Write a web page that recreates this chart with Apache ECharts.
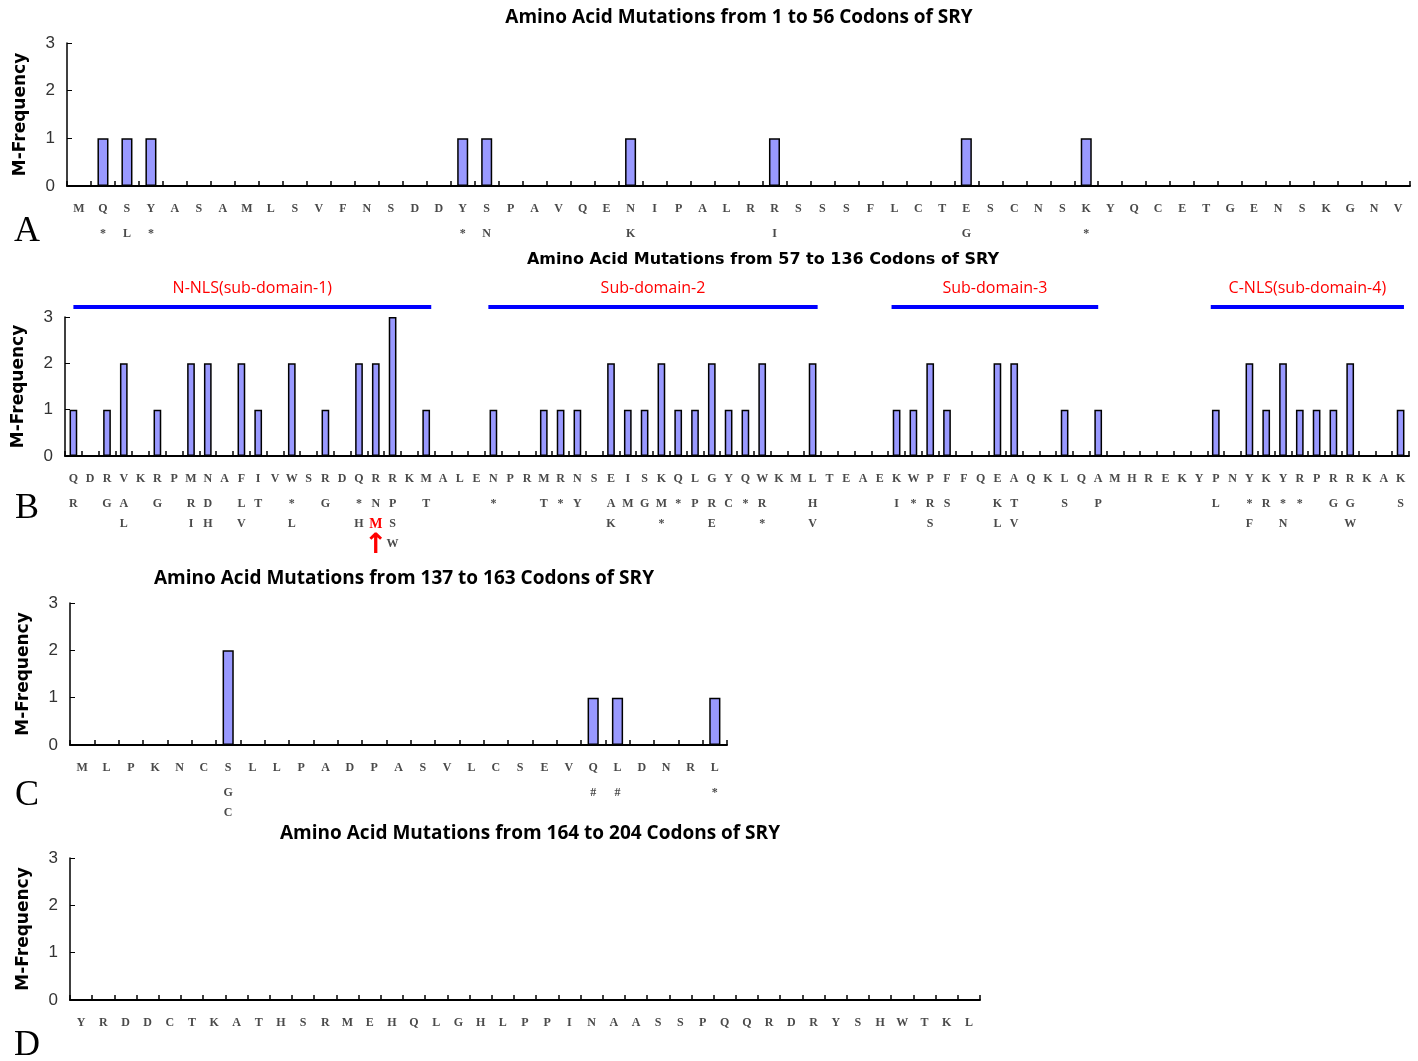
<!DOCTYPE html>
<html>
<head>
<meta charset="utf-8">
<title>SRY amino acid mutations</title>
<script src="https://cdn.jsdelivr.net/npm/echarts@6/dist/echarts.min.js"></script>
<style>
  html, body { margin: 0; padding: 0; background: #fff; }
  #chart { width: 1418px; height: 1061px; }
</style>
</head>
<body>
<div id="chart"></div>
<script>
// SRY protein residues, split into the four codon ranges
const residuesA = 'MQSYASAMLSVFNSDDYSPAVQENIPALRRSSSFLCTESCNSKYQCETGENSKGNV'.split('');
const residuesB = 'QDRVKRPMNAFIVWSRDQRRKMALENPRMRNSEISKQLGYQWKMLTEAEKWPFFQEAQKLQAMHREKYPNYKYRPRRKAK'.split('');
const residuesC = 'MLPKNCSLLPADPASVLCSEVQLDNRL'.split('');
const residuesD = 'YRDDCTKATHSRMEHQLGHLPPINAASSPQQRDRYSHWTKL'.split('');

// Mutation frequency per codon
const freqA = [0,1,1,1,0,0,0,0,0,0, 0,0,0,0,0,0,1,1,0,0, 0,0,0,1,0,0,0,0,0,1,
               0,0,0,0,0,0,0,1,0,0, 0,0,1,0,0,0,0,0,0,0, 0,0,0,0,0,0];
const freqB = [1,0,1,2,0,1,0,2,2,0, 2,1,0,2,0,1,0,2,2,3, 0,1,0,0,0,1,0,0,1,1,
               1,0,2,1,1,2,1,1,2,1, 1,2,0,0,2,0,0,0,0,1, 1,2,1,0,0,2,2,0,0,1,
               0,1,0,0,0,0,0,0,1,0, 2,1,2,1,1,1,2,0,0,1];
const freqC = [0,0,0,0,0,0,2,0,0,0, 0,0,0,0,0,0,0,0,0,0, 0,1,1,0,0,0,1];
const freqD = [0,0,0,0,0,0,0,0,0,0, 0,0,0,0,0,0,0,0,0,0, 0,0,0,0,0,0,0,0,0,0,
               0,0,0,0,0,0,0,0,0,0, 0];

// Substituted residues per codon ('/' separates several; '*' stop, '#' frameshift)
const mutA = ['','*','L','*','','','','','','', '','','','','','','*','N','','',
              '','','','K','','','','','','I', '','','','','','','','G','','',
              '','','*','','','','','','','', '','','','','',''];
const mutB = ['R','','G','A/L','','G','','R/I','D/H','', 'L/V','T','','*/L','','G','','*/H','N/M','P/S/W',
              '','T','','','','*','','','T','*', 'Y','','A/K','M','G','M/*','*','P','R/E','C',
              '*','R/*','','','H/V','','','','','I', '*','R/S','S','','','K/L','T/V','','','S',
              '','P','','','','','','','L','', '*/F','R','*/N','*','','G','G/W','','','S'];
const mutC = ['','','','','','','G/C','','','', '','','','','','','','','','',
              '','#','#','','','','*'];
const mutD = [];

// Substitution marked in red with an arrow (codon 75, R -> M)
const highlightB = { index: 18, residue: 'M' };

// HMG-box sub-domains, in codon numbers
const domainNames = ['N-NLS(sub-domain-1)', 'Sub-domain-2', 'Sub-domain-3', 'C-NLS(sub-domain-4)'];
const domainStart = [57.0, 81.7, 105.7, 124.7];
const domainEnd   = [78.3, 101.3, 118.0, 136.2];

const titles = [
  'Amino Acid Mutations from 1 to 56 Codons of SRY',
  'Amino Acid Mutations from 57 to 136 Codons of SRY',
  'Amino Acid Mutations from 137 to 163 Codons of SRY',
  'Amino Acid Mutations from 164 to 204 Codons of SRY'
];
const panelLetters = ['A', 'B', 'C', 'D'];

const panels = [
  { residues: residuesA, freq: freqA, muts: mutA, hl: null,
    grid: { left: 67, top: 43, width: 1343, height: 143 },
    title: { x: 739, y: 18, font: 'bold 19px "Open Sans"' }, letterY: 232 },
  { residues: residuesB, freq: freqB, muts: mutB, hl: highlightB,
    grid: { left: 65, top: 317, width: 1344, height: 139 },
    title: { x: 763, y: 260, font: 'bold 16px "DejaVu Sans"' }, letterY: 509 },
  { residues: residuesC, freq: freqC, muts: mutC, hl: null,
    grid: { left: 70, top: 603, width: 657, height: 142 },
    title: { x: 404, y: 579, font: 'bold 19px "Open Sans"' }, letterY: 796 },
  { residues: residuesD, freq: freqD, muts: mutD, hl: null,
    grid: { left: 70, top: 858, width: 910, height: 142 },
    title: { x: 530, y: 834, font: 'bold 19px "Open Sans"' }, letterY: 1046 }
];

const letterFont = { fontFamily: 'Liberation Serif', fontSize: 12, fontWeight: 'bold', color: '#4a4a4a' };
const labelRich = {
  res:   Object.assign({ lineHeight: 30 }, letterFont),
  mut:   Object.assign({ lineHeight: 20 }, letterFont),
  hl:    { fontFamily: 'Liberation Serif', fontSize: 14, lineHeight: 20, color: '#ff0000', fontWeight: 'bold' },
  arrow: { fontFamily: 'DejaVu Sans', fontSize: 28, lineHeight: 24, color: '#ff0000', fontWeight: 'bold' }
};

function makeFormatter(muts, hl) {
  return function (value, index) {
    const lines = ['{res|' + value + '}'];
    const alts = muts[index] ? muts[index].split('/') : [];
    alts.forEach(function (a) {
      const isHl = hl && hl.index === index && hl.residue === a;
      lines.push(isHl ? '{hl|' + a + '}' : '{mut|' + a + '}');
    });
    if (hl && hl.index === index) lines.push('{arrow|\u2191}');
    return lines.join('\n');
  };
}

const grids = [], xAxes = [], yAxes = [], series = [], graphics = [];

panels.forEach(function (p, i) {
  grids.push(Object.assign({ containLabel: false }, p.grid));
  xAxes.push({
    type: 'category', gridIndex: i, data: p.residues,
    axisLine: { lineStyle: { color: '#000', width: 2 } },
    axisTick: { show: true, inside: true, length: 5, interval: 0, lineStyle: { color: '#000', width: 1.5 } },
    axisLabel: { interval: 0, margin: 8, formatter: makeFormatter(p.muts, p.hl), rich: labelRich },
    splitLine: { show: false }
  });
  yAxes.push({
    type: 'value', gridIndex: i, min: 0, max: 3, interval: 1,
    name: 'M-Frequency', nameLocation: 'middle', nameGap: 38,
    nameTextStyle: { fontFamily: 'DejaVu Sans', fontWeight: 'bold', fontSize: 17, color: '#000' },
    axisLine: { show: true, lineStyle: { color: '#000', width: 1.5 } },
    axisTick: { show: true, inside: true, length: 5, lineStyle: { color: '#000' } },
    axisLabel: { fontFamily: 'Liberation Sans', fontSize: 17, color: '#333', margin: 12 },
    splitLine: { show: false }
  });
  series.push({
    type: 'bar', xAxisIndex: i, yAxisIndex: i, data: p.freq,
    barWidth: '46%',
    itemStyle: { color: '#9999ff', borderColor: '#000', borderWidth: 1.5 },
    silent: true
  });
  graphics.push({
    type: 'text', x: p.title.x, y: p.title.y,
    style: { text: titles[i], font: p.title.font, fill: '#000', align: 'center', verticalAlign: 'middle' }
  });
  graphics.push({
    type: 'text', x: 27, y: p.letterY,
    style: { text: panelLetters[i], font: '36px "Liberation Serif"', fill: '#000', align: 'center', verticalAlign: 'middle' }
  });
});

// Strip above panel B carrying the sub-domain bars, scaled in codon numbers
const stripIndex = panels.length;
grids.push({ left: 65, top: 297, width: 1344, height: 20 });
xAxes.push({ type: 'value', gridIndex: stripIndex, min: 56.5, max: 136.5, show: false });
yAxes.push({ type: 'value', gridIndex: stripIndex, min: 0, max: 1, show: false });
series.push({
  type: 'line', xAxisIndex: stripIndex, yAxisIndex: stripIndex, data: [],
  markLine: {
    silent: true, symbol: ['none', 'none'],
    lineStyle: { color: '#0000ff', width: 4, type: 'solid' },
    label: { show: true, position: 'middle', formatter: '{b}', color: '#ff0000',
             fontFamily: 'Open Sans', fontSize: 16, distance: 11 },
    data: domainNames.map(function (name, k) {
      return [{ name: name, coord: [domainStart[k], 0.5] }, { coord: [domainEnd[k], 0.5] }];
    })
  }
});

const chart = echarts.init(document.getElementById('chart'), null, { renderer: 'canvas' });
chart.setOption({
  animation: false,
  backgroundColor: '#fff',
  grid: grids,
  xAxis: xAxes,
  yAxis: yAxes,
  series: series,
  graphic: graphics
});
</script>
</body>
</html>
